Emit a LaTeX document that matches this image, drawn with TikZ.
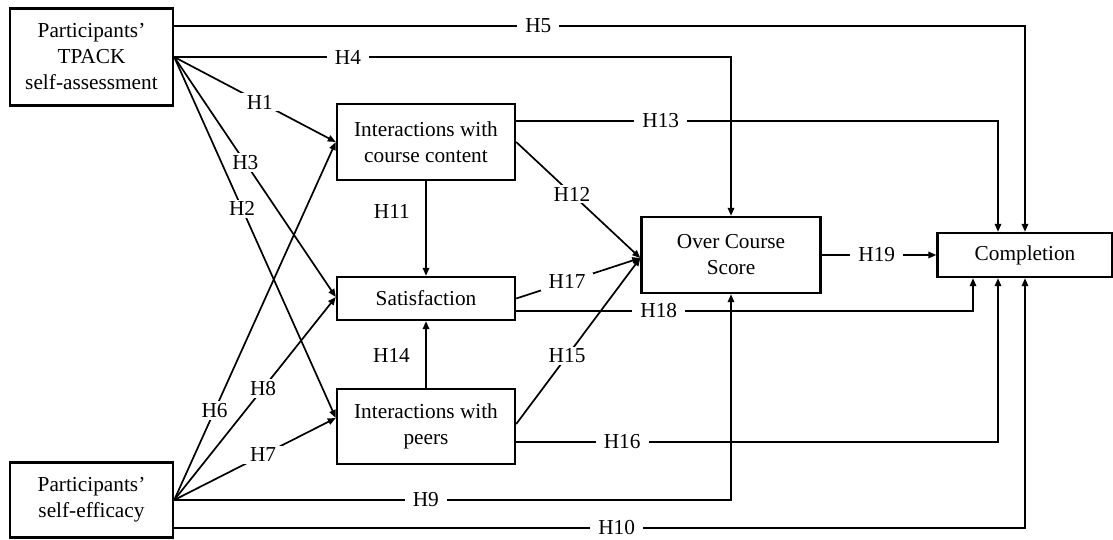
\documentclass[tikz,border=0pt]{standalone}
\usepackage{fontspec}
\setmainfont{Liberation Serif}
\usetikzlibrary{arrows.meta}
\begin{document}
\begin{tikzpicture}[x=1pt,y=-1pt,
  every node/.style={font=\fontsize{21.3}{26}\selectfont},
  box/.style={draw, line width=2.4pt, align=center, inner sep=0pt},
  conn/.style={line width=1.7pt, -{Triangle[length=8pt,width=6.5pt]}},
  lab/.style={fill=white, inner xsep=8pt, inner ysep=2pt}]
\useasboundingbox (0,0) rectangle (1113,539);
\fill[white] (0,0) rectangle (1113,539);

\node[box, minimum width=163pt, minimum height=97pt] (tp) at (91.5,57) {Participants'\\TPACK\\self-assessment};
\node[box, minimum width=163pt, minimum height=75pt] (se) at (91.5,500) {Participants'\\self-efficacy};
\node[box, minimum width=178pt, minimum height=76pt] (cc) at (426,142) {Interactions with\\course content};
\node[box, minimum width=178pt, minimum height=43pt] (sat) at (426,298.5) {Satisfaction};
\node[box, minimum width=178pt, minimum height=75pt] (pe) at (426,426.5) {Interactions with\\peers};
\node[box, minimum width=179pt, minimum height=76pt] (ocs) at (731,255) {Over Course\\Score};
\node[box, minimum width=175pt, minimum height=44pt] (comp) at (1025,255) {Completion};

% from TPACK
\draw[conn] ([yshift=31pt]tp.east) -| node[lab, pos=0.214] {H5} (comp.north);
\draw[conn] (tp.east) -| node[lab, pos=0.156] {H4} (ocs.north);
\draw[conn] (tp.east) -- node[lab, pos=0.53] {H1} (cc.west);
\draw[conn] (tp.east) -- node[lab, pos=0.44] {H3} ([yshift=1.5pt]sat.west);
\draw[conn] (tp.east) -- node[lab, pos=0.42] {H2} ([yshift=8.5pt]pe.west);

% from self-efficacy
\draw[conn] (se.east) -- node[lab, pos=0.25] {H6} (cc.west);
\draw[conn] (se.east) -- node[lab, pos=0.55] {H8} ([yshift=1.5pt]sat.west);
\draw[conn] (se.east) -- node[lab, pos=0.55] {H7} ([yshift=8.5pt]pe.west);
\draw[conn] (se.east) -| node[lab, pos=0.226] {H9} (ocs.south);
\draw[conn] ([yshift=-28pt]se.east) -| node[lab, pos=0.26] {H10} (comp.south);

% from course content
\draw[conn] (cc.south) -- node[left=12pt, pos=0.32] {H11} (sat.north);
\draw[conn] ([yshift=21pt]cc.east) -| node[lab, pos=0.15] {H13} ([xshift=-27pt]comp.north);
\draw[conn] (cc.east) -- node[lab, pos=0.45] {H12} ([yshift=-3pt]ocs.west);

% from satisfaction
\draw[conn] (sat.east) -- node[lab, pos=0.41] {H17} ([yshift=-3pt]ocs.west);
\draw[conn] ([yshift=-12.5pt]sat.east) -| node[lab, pos=0.156] {H18} ([xshift=-52pt]comp.south);

% from peers
\draw[conn] (pe.north) -- node[left=12pt, pos=0.49] {H14} (sat.south);
\draw[conn] ([yshift=2.5pt]pe.east) -- node[lab, pos=0.41] {H15} ([yshift=-3pt]ocs.west);
\draw[conn] ([yshift=-15.5pt]pe.east) -| node[lab, pos=0.11] {H16} ([xshift=-27pt]comp.south);

% score to completion
\draw[conn] (ocs.east) -- node[lab, pos=0.48] {H19} (comp.west);
\end{tikzpicture}
\end{document}
